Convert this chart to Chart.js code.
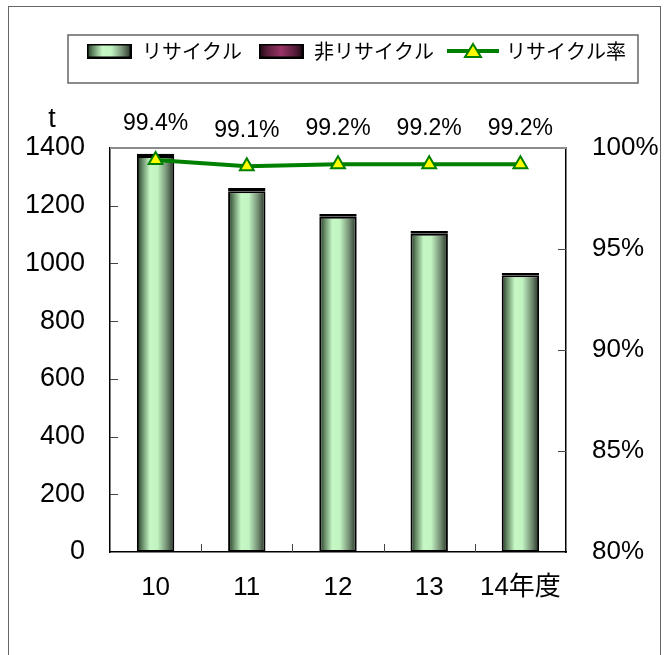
<!DOCTYPE html>
<html lang="ja">
<head>
<meta charset="utf-8">
<script src="https://cdn.jsdelivr.net/npm/chart.js@4.4.1/dist/chart.umd.min.js"></script>
<style>
  html, body { margin: 0; padding: 0; background: #fff; overflow: hidden; }
  #frame { position: absolute; left: 8px; top: 6px; width: 653px; height: 680px;
           border: 1.5px solid #666; box-sizing: border-box; }
  #wrap { position: absolute; left: 0; top: 0; width: 665px; height: 655px; }
</style>
</head>
<body>
<div id="frame"></div>
<div id="wrap"><canvas id="chart" width="665" height="655"></canvas></div>
<script>
// recycling tonnage per fiscal year
const years = ["10", "11", "12", "13", "14年度"];
const recycled = [1372, 1250, 1162, 1103, 959];
const notRecycled = [8, 11, 9, 9, 8];
const recycleRate = [99.4, 99.1, 99.2, 99.2, 99.2];
const tonRange = [0, 1400, 200];
const rateRange = [80, 100, 5];

const FONT = "'Liberation Sans', 'Noto Sans CJK JP', sans-serif";
const JP_FONT = "'Noto Sans CJK JP', 'Liberation Sans', sans-serif";
const BAR_SHARE = 0.41;

const greenStops = [[0, "#1c2e1c"], [0.12, "#5a7c5a"], [0.35, "#c6f8c6"], [0.55, "#c2f4c2"], [0.8, "#748f74"], [1, "#222e22"]];
const maroonStops = [[0, "#1a0810"], [0.2, "#5a1e3c"], [0.5, "#993366"], [0.8, "#5a1e3c"], [1, "#1a0810"]];

function addStops(g, stops) {
  stops.forEach(([o, c]) => g.addColorStop(o, c));
  return g;
}

// horizontal shading across each bar
function barFill(stops) {
  return (ctx) => {
    const chart = ctx.chart;
    const xs = chart.scales.x;
    if (ctx.type !== "data" || !chart.chartArea || !xs) return stops[2][1];
    const cx = xs.getPixelForValue(ctx.dataIndex);
    const half = xs.width / years.length * BAR_SHARE / 2;
    return addStops(chart.ctx.createLinearGradient(cx - half, 0, cx + half, 0), stops);
  };
}

function barIcon(stops) {
  const c = document.createElement("canvas");
  c.width = 45; c.height = 15;
  const g = c.getContext("2d");
  g.fillStyle = addStops(g.createLinearGradient(0, 0, 45, 0), stops);
  g.fillRect(0, 0, 45, 15);
  g.lineWidth = 2;
  g.strokeStyle = "#000";
  g.strokeRect(1, 1, 43, 13);
  return c;
}

function lineIcon() {
  const c = document.createElement("canvas");
  c.width = 54; c.height = 18;
  const g = c.getContext("2d");
  g.strokeStyle = "#008000";
  g.lineWidth = 4;
  g.beginPath(); g.moveTo(1, 9); g.lineTo(53, 9); g.stroke();
  g.beginPath(); g.moveTo(27, 2); g.lineTo(35, 15); g.lineTo(19, 15); g.closePath();
  g.fillStyle = "#ffff00"; g.fill();
  g.lineWidth = 2; g.stroke();
  return c;
}

const legendIcons = [barIcon(greenStops), barIcon(maroonStops), lineIcon()];

const framePlugin = {
  id: "frameBits",
  beforeLayout(chart) {
    const lg = chart.legend;
    if (lg && !lg._fixed) {
      const fit = lg.fit;
      lg.fit = function () { fit.call(this); this.height = 123; };
      lg._fixed = true;
    }
  },
  afterLayout(chart) {
    const lg = chart.legend;
    const shift = 356 - (lg.left + lg.right) / 2;
    lg.left += shift; lg.right += shift;
  },
  afterDraw(chart) {
    const { ctx, chartArea: a, scales } = chart;
    ctx.save();
    // legend frame
    ctx.strokeStyle = "#666";
    ctx.lineWidth = 1.5;
    ctx.strokeRect(a.left - 42, 35, a.right - a.left + 114, 48);
    // top edge of plot
    ctx.strokeStyle = "#8c8c8c";
    ctx.lineWidth = 2;
    ctx.beginPath(); ctx.moveTo(a.left, a.top); ctx.lineTo(a.right, a.top); ctx.stroke();
    // inward tick marks
    ctx.strokeStyle = "#444";
    ctx.lineWidth = 1;
    ctx.beginPath();
    scales.y.ticks.forEach(t => {
      if (t.value <= tonRange[0] || t.value >= tonRange[1]) return;
      const y = Math.round(scales.y.getPixelForValue(t.value)) + 0.5;
      ctx.moveTo(a.left, y); ctx.lineTo(a.left + 8, y);
    });
    scales.y1.ticks.forEach(t => {
      if (t.value <= rateRange[0] || t.value >= rateRange[1]) return;
      const y = Math.round(scales.y1.getPixelForValue(t.value)) + 0.5;
      ctx.moveTo(a.right - 8, y); ctx.lineTo(a.right, y);
    });
    for (let i = 1; i < years.length; i++) {
      const x = Math.round((scales.x.getPixelForValue(i - 1) + scales.x.getPixelForValue(i)) / 2) + 0.5;
      ctx.moveTo(x, a.bottom); ctx.lineTo(x, a.bottom - 8);
    }
    ctx.stroke();
    // unit label
    ctx.fillStyle = "#000";
    ctx.font = "27px " + FONT;
    ctx.textAlign = "center";
    ctx.textBaseline = "middle";
    ctx.fillText("t", a.left - 58, a.top - 28);
    ctx.restore();
  },
  afterDatasetsDraw(chart) {
    const { ctx } = chart;
    const meta = chart.getDatasetMeta(2);
    ctx.save();
    ctx.fillStyle = "#000";
    ctx.font = "23px " + FONT;
    ctx.textAlign = "center";
    ctx.textBaseline = "middle";
    meta.data.forEach((p, i) => {
      ctx.fillText(recycleRate[i].toFixed(1) + "%", p.x, p.y - 36);
    });
    ctx.restore();
  }
};

new Chart(document.getElementById("chart"), {
  type: "bar",
  data: {
    labels: years,
    datasets: [
      {
        label: "リサイクル",
        data: recycled,
        backgroundColor: barFill(greenStops),
        borderColor: "#000",
        borderWidth: 2,
        borderSkipped: false,
        yAxisID: "y",
        stack: "t",
        order: 1
      },
      {
        label: "非リサイクル",
        data: notRecycled,
        backgroundColor: barFill(maroonStops),
        borderColor: "#000",
        borderWidth: 2,
        borderSkipped: false,
        yAxisID: "y",
        stack: "t",
        order: 1
      },
      {
        type: "line",
        label: "リサイクル率",
        data: recycleRate,
        borderColor: "#008000",
        borderWidth: 4,
        pointStyle: "triangle",
        pointRadius: 8,
        pointBackgroundColor: "#ffff00",
        pointBorderColor: "#008000",
        pointBorderWidth: 2,
        yAxisID: "y1",
        order: 0
      }
    ]
  },
  options: {
    responsive: false,
    animation: false,
    layout: { padding: { top: 25, left: 0, right: 0, bottom: 0 } },
    datasets: { bar: { barPercentage: BAR_SHARE, categoryPercentage: 1 } },
    plugins: {
      tooltip: { enabled: false },
      legend: {
        position: "top",
        labels: {
          usePointStyle: true,
          pointStyleWidth: 46,
          padding: 16,
          color: "#000",
          font: { family: JP_FONT, size: 20 },
          generateLabels(chart) {
            const items = Chart.defaults.plugins.legend.labels.generateLabels(chart);
            items.sort((a, b) => a.datasetIndex - b.datasetIndex);
            items.forEach(it => { it.pointStyle = legendIcons[it.datasetIndex]; it.lineWidth = 0; });
            return items;
          }
        }
      }
    },
    scales: {
      x: {
        stacked: true,
        grid: { display: false, drawTicks: false },
        border: { display: true, color: "#000", width: 1.5 },
        ticks: { color: "#000", font: { family: FONT, size: 26 }, padding: 20, maxRotation: 0 },
        afterFit(s) { s.height = 103; }
      },
      y: {
        stacked: true,
        position: "left",
        min: tonRange[0],
        max: tonRange[1],
        grid: { display: false, drawTicks: false },
        border: { display: true, color: "#000", width: 1.5 },
        ticks: { stepSize: tonRange[2], color: "#000", font: { family: FONT, size: 27 }, padding: 25,
                 callback: v => String(v) },
        afterFit(s) { s.width = 110; }
      },
      y1: {
        position: "right",
        min: rateRange[0],
        max: rateRange[1],
        grid: { display: false, drawTicks: false },
        border: { display: true, color: "#000", width: 1.5 },
        ticks: { stepSize: rateRange[2], color: "#000", font: { family: FONT, size: 26 }, padding: 26,
                 callback: v => v + "%" },
        afterFit(s) { s.width = 99; }
      }
    }
  },
  plugins: [framePlugin]
});
</script>
</body>
</html>
